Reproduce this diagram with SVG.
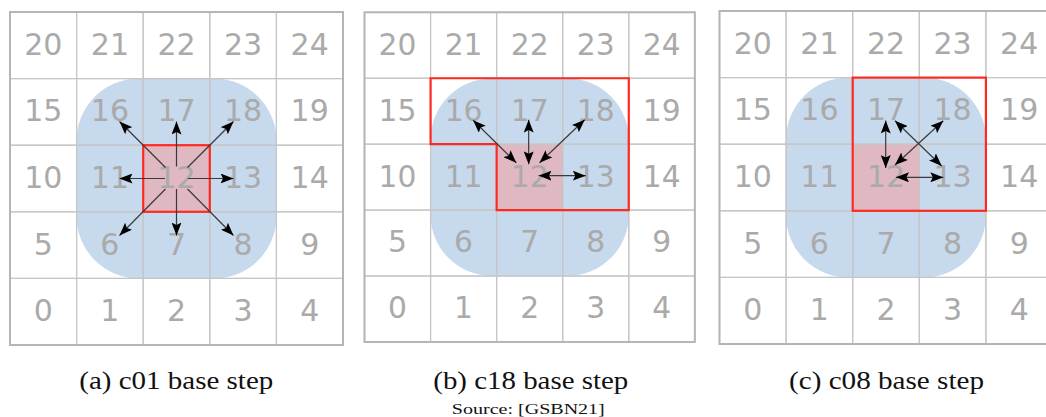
<svg xmlns="http://www.w3.org/2000/svg" width="1046" height="417" viewBox="0 0 1046 417">
<style>
.cell{fill:none;stroke:#c6c6c6;stroke-width:1.2}
.border{fill:none;stroke:#b5b5b5;stroke-width:2}
.num{font-family:"DejaVu Sans",sans-serif;font-size:30px;fill:#aaaaaa;text-anchor:middle}
.blue{fill:#c6d9ed}
.pink{fill:#dfb8c1}
.red{fill:none;stroke:#ff2a1f;stroke-width:2.2}
.arr{stroke:#3a3a3a;stroke-width:1.2;fill:none;marker-end:url(#ah)}
.dbl{stroke:#3a3a3a;stroke-width:1.2;fill:none;marker-start:url(#ah);marker-end:url(#ah)}
.cap{font-family:"Liberation Serif",serif;font-size:25px;fill:#111;text-anchor:middle}
.src{font-family:"Liberation Serif",serif;font-size:14px;fill:#111;text-anchor:middle}
</style>
<defs>
<marker id="ah" viewBox="0 0 13 10" refX="13" refY="5" markerWidth="13" markerHeight="10" markerUnits="userSpaceOnUse" orient="auto-start-reverse">
<path d="M0,0 L13,5 L0,10 L2.5,5 Z" fill="#000"/>
</marker>
</defs>
<rect width="1046" height="417" fill="#fff"/>

<!-- Panel A -->
<g id="panel-a" transform="translate(10,12)">
<rect class="blue" x="66.6" y="66.6" width="199.8" height="199.8" rx="62"/>
<rect class="pink" x="133.2" y="133.2" width="66.6" height="66.6"/>
<g id="a-cells">
<g id="a20"><rect class="cell" x="0" y="0" width="66.6" height="66.6"/><text class="num" x="33.3" y="42.8">20</text></g>
<g id="a21"><rect class="cell" x="66.6" y="0" width="66.6" height="66.6"/><text class="num" x="99.9" y="42.8">21</text></g>
<g id="a22"><rect class="cell" x="133.2" y="0" width="66.6" height="66.6"/><text class="num" x="166.5" y="42.8">22</text></g>
<g id="a23"><rect class="cell" x="199.8" y="0" width="66.6" height="66.6"/><text class="num" x="233.1" y="42.8">23</text></g>
<g id="a24"><rect class="cell" x="266.4" y="0" width="66.6" height="66.6"/><text class="num" x="299.7" y="42.8">24</text></g>
<g id="a15"><rect class="cell" x="0" y="66.6" width="66.6" height="66.6"/><text class="num" x="33.3" y="109.4">15</text></g>
<g id="a16"><rect class="cell" x="66.6" y="66.6" width="66.6" height="66.6"/><text class="num" x="99.9" y="109.4">16</text></g>
<g id="a17"><rect class="cell" x="133.2" y="66.6" width="66.6" height="66.6"/><text class="num" x="166.5" y="109.4">17</text></g>
<g id="a18"><rect class="cell" x="199.8" y="66.6" width="66.6" height="66.6"/><text class="num" x="233.1" y="109.4">18</text></g>
<g id="a19"><rect class="cell" x="266.4" y="66.6" width="66.6" height="66.6"/><text class="num" x="299.7" y="109.4">19</text></g>
<g id="a10"><rect class="cell" x="0" y="133.2" width="66.6" height="66.6"/><text class="num" x="33.3" y="176">10</text></g>
<g id="a11"><rect class="cell" x="66.6" y="133.2" width="66.6" height="66.6"/><text class="num" x="99.9" y="176">11</text></g>
<g id="a12"><rect class="cell" x="133.2" y="133.2" width="66.6" height="66.6"/><text class="num" x="166.5" y="176">12</text></g>
<g id="a13"><rect class="cell" x="199.8" y="133.2" width="66.6" height="66.6"/><text class="num" x="233.1" y="176">13</text></g>
<g id="a14"><rect class="cell" x="266.4" y="133.2" width="66.6" height="66.6"/><text class="num" x="299.7" y="176">14</text></g>
<g id="a5"><rect class="cell" x="0" y="199.8" width="66.6" height="66.6"/><text class="num" x="33.3" y="242.6">5</text></g>
<g id="a6"><rect class="cell" x="66.6" y="199.8" width="66.6" height="66.6"/><text class="num" x="99.9" y="242.6">6</text></g>
<g id="a7"><rect class="cell" x="133.2" y="199.8" width="66.6" height="66.6"/><text class="num" x="166.5" y="242.6">7</text></g>
<g id="a8"><rect class="cell" x="199.8" y="199.8" width="66.6" height="66.6"/><text class="num" x="233.1" y="242.6">8</text></g>
<g id="a9"><rect class="cell" x="266.4" y="199.8" width="66.6" height="66.6"/><text class="num" x="299.7" y="242.6">9</text></g>
<g id="a0"><rect class="cell" x="0" y="266.4" width="66.6" height="66.6"/><text class="num" x="33.3" y="309.2">0</text></g>
<g id="a1"><rect class="cell" x="66.6" y="266.4" width="66.6" height="66.6"/><text class="num" x="99.9" y="309.2">1</text></g>
<g id="a2"><rect class="cell" x="133.2" y="266.4" width="66.6" height="66.6"/><text class="num" x="166.5" y="309.2">2</text></g>
<g id="a3"><rect class="cell" x="199.8" y="266.4" width="66.6" height="66.6"/><text class="num" x="233.1" y="309.2">3</text></g>
<g id="a4"><rect class="cell" x="266.4" y="266.4" width="66.6" height="66.6"/><text class="num" x="299.7" y="309.2">4</text></g>
</g>
<rect class="border" x="0" y="0" width="333" height="333"/>
<rect class="red" x="133.2" y="133.2" width="66.6" height="66.6"/>
<g id="a-connectors">
<line class="arr" x1="155.5" y1="155.5" x2="109.5" y2="109.5"/>
<line class="arr" x1="166.5" y1="154.5" x2="166.5" y2="109.5"/>
<line class="arr" x1="177.5" y1="155.5" x2="223.5" y2="109.5"/>
<line class="arr" x1="155" y1="166.5" x2="109.5" y2="166.5"/>
<line class="arr" x1="178" y1="166.5" x2="223.5" y2="166.5"/>
<line class="arr" x1="155.5" y1="177" x2="109.5" y2="223.5"/>
<line class="arr" x1="166.5" y1="177" x2="166.5" y2="223.5"/>
<line class="arr" x1="177.5" y1="177" x2="223.5" y2="223.5"/>
</g>
</g>

<!-- Panel B -->
<g id="panel-b" transform="translate(364.5,12.3) scale(0.992,0.99)">
<rect class="blue" x="66.6" y="66.6" width="199.8" height="199.8" rx="62"/>
<rect class="pink" x="133.2" y="133.2" width="66.6" height="66.6"/>
<g id="b-cells">
<g id="b20"><rect class="cell" x="0" y="0" width="66.6" height="66.6"/><text class="num" x="33.3" y="42.8">20</text></g>
<g id="b21"><rect class="cell" x="66.6" y="0" width="66.6" height="66.6"/><text class="num" x="99.9" y="42.8">21</text></g>
<g id="b22"><rect class="cell" x="133.2" y="0" width="66.6" height="66.6"/><text class="num" x="166.5" y="42.8">22</text></g>
<g id="b23"><rect class="cell" x="199.8" y="0" width="66.6" height="66.6"/><text class="num" x="233.1" y="42.8">23</text></g>
<g id="b24"><rect class="cell" x="266.4" y="0" width="66.6" height="66.6"/><text class="num" x="299.7" y="42.8">24</text></g>
<g id="b15"><rect class="cell" x="0" y="66.6" width="66.6" height="66.6"/><text class="num" x="33.3" y="109.4">15</text></g>
<g id="b16"><rect class="cell" x="66.6" y="66.6" width="66.6" height="66.6"/><text class="num" x="99.9" y="109.4">16</text></g>
<g id="b17"><rect class="cell" x="133.2" y="66.6" width="66.6" height="66.6"/><text class="num" x="166.5" y="109.4">17</text></g>
<g id="b18"><rect class="cell" x="199.8" y="66.6" width="66.6" height="66.6"/><text class="num" x="233.1" y="109.4">18</text></g>
<g id="b19"><rect class="cell" x="266.4" y="66.6" width="66.6" height="66.6"/><text class="num" x="299.7" y="109.4">19</text></g>
<g id="b10"><rect class="cell" x="0" y="133.2" width="66.6" height="66.6"/><text class="num" x="33.3" y="176">10</text></g>
<g id="b11"><rect class="cell" x="66.6" y="133.2" width="66.6" height="66.6"/><text class="num" x="99.9" y="176">11</text></g>
<g id="b12"><rect class="cell" x="133.2" y="133.2" width="66.6" height="66.6"/><text class="num" x="166.5" y="176">12</text></g>
<g id="b13"><rect class="cell" x="199.8" y="133.2" width="66.6" height="66.6"/><text class="num" x="233.1" y="176">13</text></g>
<g id="b14"><rect class="cell" x="266.4" y="133.2" width="66.6" height="66.6"/><text class="num" x="299.7" y="176">14</text></g>
<g id="b5"><rect class="cell" x="0" y="199.8" width="66.6" height="66.6"/><text class="num" x="33.3" y="242.6">5</text></g>
<g id="b6"><rect class="cell" x="66.6" y="199.8" width="66.6" height="66.6"/><text class="num" x="99.9" y="242.6">6</text></g>
<g id="b7"><rect class="cell" x="133.2" y="199.8" width="66.6" height="66.6"/><text class="num" x="166.5" y="242.6">7</text></g>
<g id="b8"><rect class="cell" x="199.8" y="199.8" width="66.6" height="66.6"/><text class="num" x="233.1" y="242.6">8</text></g>
<g id="b9"><rect class="cell" x="266.4" y="199.8" width="66.6" height="66.6"/><text class="num" x="299.7" y="242.6">9</text></g>
<g id="b0"><rect class="cell" x="0" y="266.4" width="66.6" height="66.6"/><text class="num" x="33.3" y="309.2">0</text></g>
<g id="b1"><rect class="cell" x="66.6" y="266.4" width="66.6" height="66.6"/><text class="num" x="99.9" y="309.2">1</text></g>
<g id="b2"><rect class="cell" x="133.2" y="266.4" width="66.6" height="66.6"/><text class="num" x="166.5" y="309.2">2</text></g>
<g id="b3"><rect class="cell" x="199.8" y="266.4" width="66.6" height="66.6"/><text class="num" x="233.1" y="309.2">3</text></g>
<g id="b4"><rect class="cell" x="266.4" y="266.4" width="66.6" height="66.6"/><text class="num" x="299.7" y="309.2">4</text></g>
</g>
<rect class="border" x="0" y="0" width="333" height="333"/>
<path class="red" d="M66.6,66.6 H266.4 V199.8 H133.2 V133.2 H66.6 Z"/>
<g id="b-connectors">
<line class="dbl" x1="109.5" y1="109" x2="153" y2="152"/>
<line class="dbl" x1="165.5" y1="108.5" x2="165.5" y2="153.5"/>
<line class="dbl" x1="222" y1="108.5" x2="176.5" y2="152"/>
<line class="dbl" x1="175.5" y1="165" x2="223" y2="165"/>
</g>
</g>

<!-- Panel C -->
<g id="panel-c" transform="translate(719.5,11)">
<rect class="blue" x="66.6" y="66.6" width="199.8" height="199.8" rx="62"/>
<rect class="pink" x="133.2" y="133.2" width="66.6" height="66.6"/>
<g id="c-cells">
<g id="c20"><rect class="cell" x="0" y="0" width="66.6" height="66.6"/><text class="num" x="33.3" y="42.8">20</text></g>
<g id="c21"><rect class="cell" x="66.6" y="0" width="66.6" height="66.6"/><text class="num" x="99.9" y="42.8">21</text></g>
<g id="c22"><rect class="cell" x="133.2" y="0" width="66.6" height="66.6"/><text class="num" x="166.5" y="42.8">22</text></g>
<g id="c23"><rect class="cell" x="199.8" y="0" width="66.6" height="66.6"/><text class="num" x="233.1" y="42.8">23</text></g>
<g id="c24"><rect class="cell" x="266.4" y="0" width="66.6" height="66.6"/><text class="num" x="299.7" y="42.8">24</text></g>
<g id="c15"><rect class="cell" x="0" y="66.6" width="66.6" height="66.6"/><text class="num" x="33.3" y="109.4">15</text></g>
<g id="c16"><rect class="cell" x="66.6" y="66.6" width="66.6" height="66.6"/><text class="num" x="99.9" y="109.4">16</text></g>
<g id="c17"><rect class="cell" x="133.2" y="66.6" width="66.6" height="66.6"/><text class="num" x="166.5" y="109.4">17</text></g>
<g id="c18"><rect class="cell" x="199.8" y="66.6" width="66.6" height="66.6"/><text class="num" x="233.1" y="109.4">18</text></g>
<g id="c19"><rect class="cell" x="266.4" y="66.6" width="66.6" height="66.6"/><text class="num" x="299.7" y="109.4">19</text></g>
<g id="c10"><rect class="cell" x="0" y="133.2" width="66.6" height="66.6"/><text class="num" x="33.3" y="176">10</text></g>
<g id="c11"><rect class="cell" x="66.6" y="133.2" width="66.6" height="66.6"/><text class="num" x="99.9" y="176">11</text></g>
<g id="c12"><rect class="cell" x="133.2" y="133.2" width="66.6" height="66.6"/><text class="num" x="166.5" y="176">12</text></g>
<g id="c13"><rect class="cell" x="199.8" y="133.2" width="66.6" height="66.6"/><text class="num" x="233.1" y="176">13</text></g>
<g id="c14"><rect class="cell" x="266.4" y="133.2" width="66.6" height="66.6"/><text class="num" x="299.7" y="176">14</text></g>
<g id="c5"><rect class="cell" x="0" y="199.8" width="66.6" height="66.6"/><text class="num" x="33.3" y="242.6">5</text></g>
<g id="c6"><rect class="cell" x="66.6" y="199.8" width="66.6" height="66.6"/><text class="num" x="99.9" y="242.6">6</text></g>
<g id="c7"><rect class="cell" x="133.2" y="199.8" width="66.6" height="66.6"/><text class="num" x="166.5" y="242.6">7</text></g>
<g id="c8"><rect class="cell" x="199.8" y="199.8" width="66.6" height="66.6"/><text class="num" x="233.1" y="242.6">8</text></g>
<g id="c9"><rect class="cell" x="266.4" y="199.8" width="66.6" height="66.6"/><text class="num" x="299.7" y="242.6">9</text></g>
<g id="c0"><rect class="cell" x="0" y="266.4" width="66.6" height="66.6"/><text class="num" x="33.3" y="309.2">0</text></g>
<g id="c1"><rect class="cell" x="66.6" y="266.4" width="66.6" height="66.6"/><text class="num" x="99.9" y="309.2">1</text></g>
<g id="c2"><rect class="cell" x="133.2" y="266.4" width="66.6" height="66.6"/><text class="num" x="166.5" y="309.2">2</text></g>
<g id="c3"><rect class="cell" x="199.8" y="266.4" width="66.6" height="66.6"/><text class="num" x="233.1" y="309.2">3</text></g>
<g id="c4"><rect class="cell" x="266.4" y="266.4" width="66.6" height="66.6"/><text class="num" x="299.7" y="309.2">4</text></g>
</g>
<rect class="border" x="0" y="0" width="333" height="333"/>
<rect class="red" x="133.2" y="66.6" width="133.2" height="133.2"/>
<g id="c-connectors">
<line class="dbl" x1="166.2" y1="109.5" x2="166.2" y2="157"/>
<line class="dbl" x1="175.5" y1="154" x2="223.8" y2="109.7"/>
<line class="dbl" x1="175.5" y1="109.7" x2="222.2" y2="155"/>
<line class="dbl" x1="176.5" y1="166.3" x2="223.8" y2="166.3"/>
</g>
</g>

<!-- Captions -->
<g id="captions">
<text class="cap" x="176.3" y="389" textLength="194" lengthAdjust="spacingAndGlyphs">(a) c01 base step</text>
<text class="cap" x="530.8" y="389" textLength="195" lengthAdjust="spacingAndGlyphs">(b) c18 base step</text>
<text class="cap" x="886.5" y="389" textLength="195" lengthAdjust="spacingAndGlyphs">(c) c08 base step</text>
<text class="src" x="528.3" y="414" textLength="153" lengthAdjust="spacingAndGlyphs">Source: [GSBN21]</text>
</g>
</svg>
